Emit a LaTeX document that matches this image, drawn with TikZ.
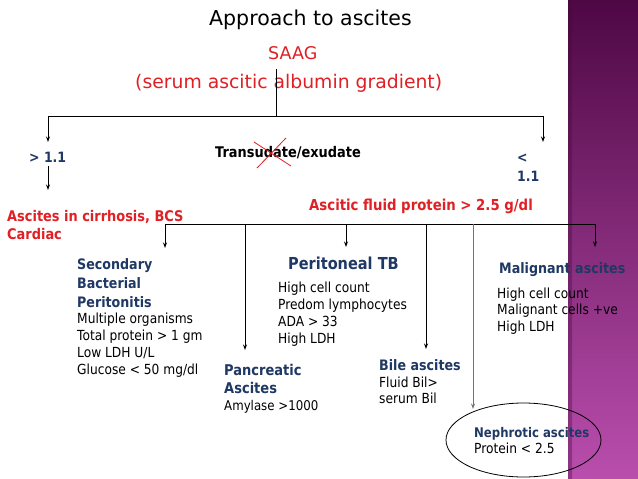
\documentclass[tikz,border=0pt]{standalone}
\usepackage{fontspec}
\setmainfont{DejaVu Sans}
\newfontfamily\tah[FakeStretch=0.88]{DejaVu Sans}
\usetikzlibrary{arrows.meta,shapes.geometric}
\definecolor{ared}{RGB}{224,32,36}
\definecolor{anavy}{RGB}{31,56,100}
\definecolor{btop}{RGB}{78,8,68}
\definecolor{bbot}{RGB}{186,78,174}
\begin{document}
\begin{tikzpicture}[x=1pt,y=-1pt,
  ln/.style={line width=0.9pt},
  arr/.style={ln,-{Stealth[length=5.5pt,width=4pt]}},
  txt/.style={inner sep=0pt,anchor=base west,align=left},
  hd/.style={txt,text=anavy,font=\tah\bfseries\fontsize{14.4}{19}\selectfont},
  bd/.style={txt,text=black,font=\tah\fontsize{13.9}{16.7}\selectfont},
  rd/.style={txt,text=ared,font=\tah\bfseries\fontsize{14.7}{18}\selectfont}]
\useasboundingbox (0,0) rectangle (638,479);
\fill[white] (0,0) rectangle (638,479);
% side band
\shade[top color=btop,bottom color=bbot] (568,0) rectangle (638,479);
\shade[left color=btop!80!black,right color=btop,opacity=0.35] (568,0) rectangle (572,479);
% titles
\node[txt,font=\fontsize{20.5}{24}\selectfont] (title) at (209,26) {Approach to ascites};
\node[txt,text=ared,font=\fontsize{17.5}{20}\selectfont] (saag) at (268,59) {SAAG};
\node[txt,text=ared,font=\fontsize{18.8}{22}\selectfont] (saagfull) at (135,88) {(serum ascitic albumin gradient)};
% first split
\coordinate (s0) at (276,69);
\coordinate (s1) at (276,116);
\coordinate (gtin) at (48,142);
\coordinate (ltin) at (543,142);
\draw[ln] (s0) -- (s1);
\draw[arr] (s1) -| (gtin);
\draw[arr] (s1) -| (ltin);
\node[txt,text=anavy,font=\tah\bfseries\fontsize{14.2}{19}\selectfont] (gt) at (29,162) {> 1.1};
\node[txt,text=anavy,font=\tah\bfseries\fontsize{14.2}{19}\selectfont] (lt) at (517,181) {<\\1.1};
\node[txt,font=\tah\bfseries\fontsize{14.7}{16}\selectfont] (te) at (215,157) {Transudate/exudate};
\draw[ared,line width=0.8pt] (254,142) -- (291,166);
\draw[ared,line width=0.8pt] (286,138) -- (257,168);
\coordinate (gtout) at (48,166);
\coordinate (cirin) at (48,190);
\draw[arr] (gtout) -- (cirin);
\node[rd] (cir) at (7,239) {Ascites in cirrhosis, BCS\\Cardiac};
\node[rd,font=\tah\bfseries\fontsize{15.1}{18}\selectfont] (afp) at (309,210) {Ascitic fluid protein > 2.5 g/dl};
% second split
\coordinate (bl) at (165,224);
\coordinate (br) at (595,224);
\coordinate (sbpin) at (165,248);
\coordinate (malin) at (595,247);
\coordinate (p0) at (245,224);  \coordinate (pancin) at (245,350);
\coordinate (t0) at (346,224);  \coordinate (tbin) at (346,247);
\coordinate (b0) at (426,224);  \coordinate (bilein) at (426,349);
\coordinate (n0) at (473,224);  \coordinate (nephin) at (473,409);
\draw[ln] (bl) -- (br);
\draw[arr] (bl) -- (sbpin);
\draw[arr] (br) -- (malin);
\draw[arr] (p0) -- (pancin);
\draw[arr] (t0) -- (tbin);
\draw[arr] (b0) -- (bilein);
\draw[arr,draw=black!55] (n0) -- (nephin);
% blocks (anchor = baseline of last line)
\node[hd] (sbp) at (77,307) {Secondary\\Bacterial\\Peritonitis};
\node[bd] (sbpb) at (77,374) {Multiple organisms\\Total protein > 1 gm\\Low LDH U/L\\Glucose < 50 mg/dl};
\node[hd,font=\tah\bfseries\fontsize{16.5}{19}\selectfont] (tb) at (288,269) {Peritoneal TB};
\node[bd] (tbb) at (278,343) {High cell count\\Predom lymphocytes\\ADA > 33\\High LDH};
\node[hd,font=\tah\bfseries\fontsize{14.8}{18}\selectfont] (panc) at (224,393) {Pancreatic\\Ascites};
\node[bd,font=\tah\fontsize{13.4}{16.7}\selectfont] (pancb) at (224,410) {Amylase >1000};
\node[hd] (bile) at (379,370) {Bile ascites};
\node[bd,font=\tah\fontsize{13.9}{16}\selectfont] (bileb) at (379,403) {Fluid Bil>\\serum Bil};
\node[hd] (mal) at (499,273) {Malignant ascites};
\node[bd] (malb) at (497,331.4) {High cell count\\Malignant cells +ve\\High LDH};
\node[ellipse,draw,line width=0.8pt,minimum width=155pt,minimum height=74pt,inner sep=0pt] (ell) at (523.5,440) {};
\node[hd,font=\tah\bfseries\fontsize{13.3}{16}\selectfont] (neph) at (474,437) {Nephrotic ascites};
\node[bd] (nephb) at (474,453) {Protein < 2.5};
\end{tikzpicture}
\end{document}
